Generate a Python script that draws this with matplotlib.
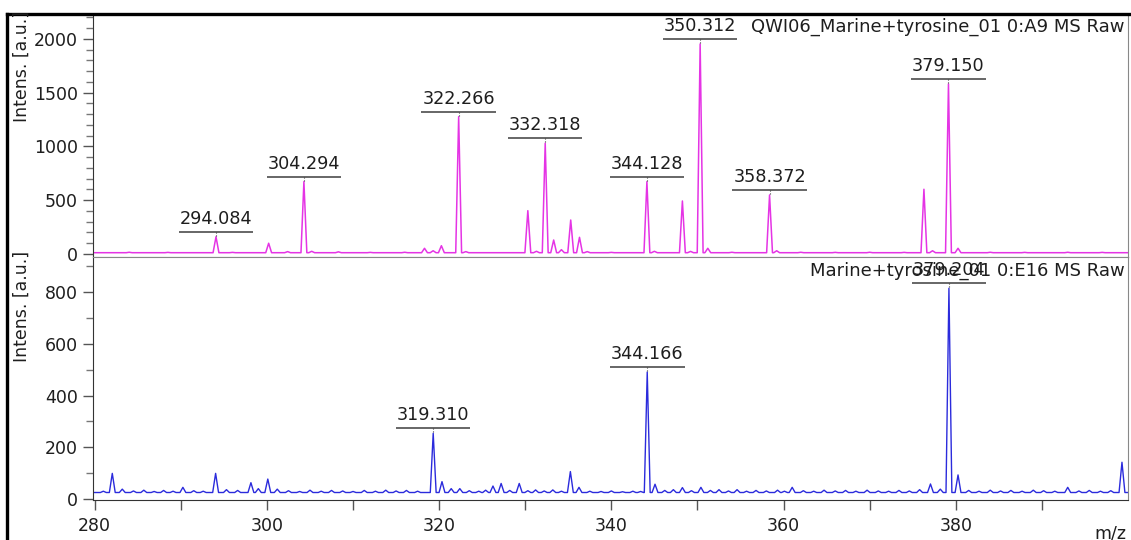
import matplotlib
matplotlib.use("Agg")
import matplotlib.pyplot as plt
from matplotlib.lines import Line2D
from matplotlib.ticker import MultipleLocator, FixedLocator

plt.rcParams['font.family'] = ['DejaVu Sans']

# upper spectrum: QWI06_Marine+tyrosine_01 0:A9
top_base = 12
top_mz = [284.0, 288.5, 294.084, 296.0, 300.2, 302.4, 304.294, 305.2, 308.3, 312.0,
          316.0, 318.3, 319.3, 320.26, 322.266, 323.1, 330.3, 331.3, 332.318, 333.3,
          334.2, 335.28, 336.3, 337.2, 340.0, 344.128, 345.0, 348.25, 349.2, 350.312,
          351.2, 354.0, 358.372, 359.2, 362.0, 366.0, 370.0, 374.0, 376.3, 377.3,
          379.150, 380.26, 384.0, 388.0, 393.0, 397.0]
top_int = [16, 15, 160, 15, 100, 22, 673, 25, 20, 15,
           16, 53, 30, 77, 1277, 22, 403, 25, 1030, 130,
           40, 316, 155, 22, 15, 673, 25, 493, 24, 1953,
           53, 16, 549, 30, 16, 15, 16, 15, 602, 30,
           1581, 53, 16, 15, 16, 15]
top_labels = [294.084, 304.294, 322.266, 332.318, 344.128, 350.312, 358.372, 379.150]

# lower spectrum: Marine+tyrosine_01 0:E16
bot_base = 25
bot_mz = [281.0, 282.04, 283.2, 284.5, 285.7, 286.9, 288.0, 289.1, 290.24, 291.5,
          292.6, 294.04, 295.3, 296.6, 298.14, 299.0, 300.1, 301.2, 302.5, 303.8,
          305.0, 306.3, 307.5, 308.8, 310.0, 311.3, 312.6, 313.8, 315.0, 316.2,
          317.5, 319.31, 320.33, 321.4, 322.4, 323.5, 324.6, 325.4, 326.25, 327.2,
          328.2, 329.3, 330.3, 331.2, 332.2, 333.2, 334.2, 335.24, 336.24, 337.5,
          338.8, 340.0, 341.3, 342.5, 343.4, 344.166, 345.07, 346.2, 347.2, 348.25,
          349.3, 350.4, 351.5, 352.5, 353.6, 354.6, 355.7, 356.8, 358.0, 359.3,
          360.1, 361.0, 362.3, 363.5, 364.7, 366.0, 367.2, 368.4, 369.7, 371.0,
          372.2, 373.4, 374.6, 375.8, 377.06, 378.2, 379.204, 380.26, 381.5, 382.7,
          384.0, 385.2, 386.4, 387.7, 389.0, 390.2, 391.5, 393.0, 394.3, 395.5,
          396.8, 398.0, 399.3]
bot_int = [30, 99, 38, 31, 34, 29, 33, 30, 45, 32,
           30, 99, 36, 33, 63, 40, 77, 38, 32, 29,
           34, 30, 33, 31, 29, 33, 30, 34, 31, 33,
           30, 254, 67, 40, 40, 32, 30, 34, 50, 60,
           33, 60, 32, 35, 31, 35, 30, 106, 45, 30,
           29, 31, 28, 30, 29, 491, 57, 33, 36, 44,
           32, 45, 33, 36, 31, 36, 30, 33, 31, 34,
           30, 45, 32, 30, 34, 31, 33, 30, 34, 31,
           30, 33, 31, 36, 58, 38, 815, 93, 33, 30,
           34, 31, 33, 30, 34, 32, 30, 45, 31, 33,
           30, 32, 142]
bot_labels = [319.310, 344.166, 379.204]

line_top = '#e534e5'
line_bot = '#2b2bdc'
txt = '#1e1e1e'


def profile(mz, inten, base, hw=0.34):
    # each peak as a narrow triangle standing on the baseline
    xs, ys = [278.0], [base]
    for m, h in sorted(zip(mz, inten)):
        xs += [m - hw, m, m + hw]
        ys += [base, h, base]
    xs.append(402.0)
    ys.append(base)
    return xs, ys


fig = plt.figure(figsize=(11.31, 5.40), dpi=100)
W, H = 1131, 540
left, width = 93 / W, (1128 - 93) / W
ax1 = fig.add_axes([left, 1 - 257 / H, width, 243 / H])
ax2 = fig.add_axes([left, 1 - 500 / H, width, 243 / H], sharex=ax1)

x, y = profile(top_mz, top_int, top_base)
ax1.plot(x, y, color=line_top, lw=1.1)
x, y = profile(bot_mz, bot_int, bot_base)
ax2.plot(x, y, color=line_bot, lw=1.0)

ax1.set_xlim(279.8, 400)
ax1.set_ylim(-28, 2232)
ax2.set_ylim(-4, 936)

for ax in (ax1, ax2):
    ax.yaxis.set_major_locator(MultipleLocator(500 if ax is ax1 else 200))
    ax.yaxis.set_minor_locator(MultipleLocator(100))
    ax.tick_params(axis='y', which='major', length=7, width=1, colors='#555', labelcolor=txt, labelsize=12.5, pad=4)
    ax.tick_params(axis='y', which='minor', length=5, width=1, colors='#777')
    ax.spines['left'].set_color('#333')
    ax.spines['right'].set_color('#888')
    ax.spines['right'].set_linewidth(0.8)
    ax.spines['top'].set_color('#888')

ax1.spines['bottom'].set_color('#888')
ax1.tick_params(axis='x', which='both', bottom=False, labelbottom=False)
ax2.xaxis.set_major_locator(FixedLocator([280, 300, 320, 340, 360, 380]))
ax2.xaxis.set_minor_locator(FixedLocator([290, 310, 330, 350, 370, 390]))
ax2.tick_params(axis='x', which='major', length=7, width=1, colors='#555', labelcolor=txt, labelsize=12.5, pad=5)
ax2.tick_params(axis='x', which='minor', length=7, width=1, colors='#555')
ax2.spines['bottom'].set_color('#333')

ax1.text(0.997, 0.948, 'QWI06_Marine+tyrosine_01 0:A9 MS Raw', transform=ax1.transAxes,
         ha='right', va='center', fontsize=13.0, color=txt)
ax2.text(0.997, 0.942, 'Marine+tyrosine_01 0:E16 MS Raw', transform=ax2.transAxes,
         ha='right', va='center', fontsize=13.0, color=txt)

fig.text(22 / W, 1 - 66 / H, 'Intens. [a.u.]', rotation=90, ha='center', va='center', fontsize=12.5, color=txt)
fig.text(22 / W, 1 - 306 / H, 'Intens. [a.u.]', rotation=90, ha='center', va='center', fontsize=12.5, color=txt)
fig.text(1126 / W, 1 - 533 / H, 'm/z', ha='right', va='center', fontsize=12.5, color=txt)

# peak labels with underline and dotted stem
labelled = []
for ax, mzs, ints, labs in ((ax1, top_mz, top_int, top_labels), (ax2, bot_mz, bot_int, bot_labels)):
    for lab in labs:
        h = ints[mzs.index(lab)]
        t = ax.annotate(f'{lab:.3f}', xy=(lab, h), xytext=(0, 9), textcoords='offset pixels',
                        ha='center', va='bottom', fontsize=12.7, color=txt)
        labelled.append((ax, lab, h, t))

fig.canvas.draw()
r = fig.canvas.get_renderer()
for ax, lab, h, t in labelled:
    bb = t.get_window_extent(r)
    px, py = ax.transData.transform((lab, h))
    inv = ax.transData.inverted()
    x0, yl = inv.transform((bb.x0 - 1, py + 5))
    x1, _ = inv.transform((bb.x1 + 1, py + 5))
    _, ys = inv.transform((px, py + 1))
    ax.plot([x0, x1], [yl, yl], color='#666', lw=1.4, clip_on=False, solid_capstyle='butt')
    ax.plot([lab, lab], [ys, yl], color='#444', lw=0.8, ls=':', clip_on=False)

# outer frame
fig.add_artist(Line2D([7 / W, 1], [1 - 14 / H, 1 - 14 / H], color='black', lw=2.4))
fig.add_artist(Line2D([7 / W, 7 / W], [0, 1 - 14 / H], color='black', lw=2.4))

fig.savefig('out.png', dpi=100)
